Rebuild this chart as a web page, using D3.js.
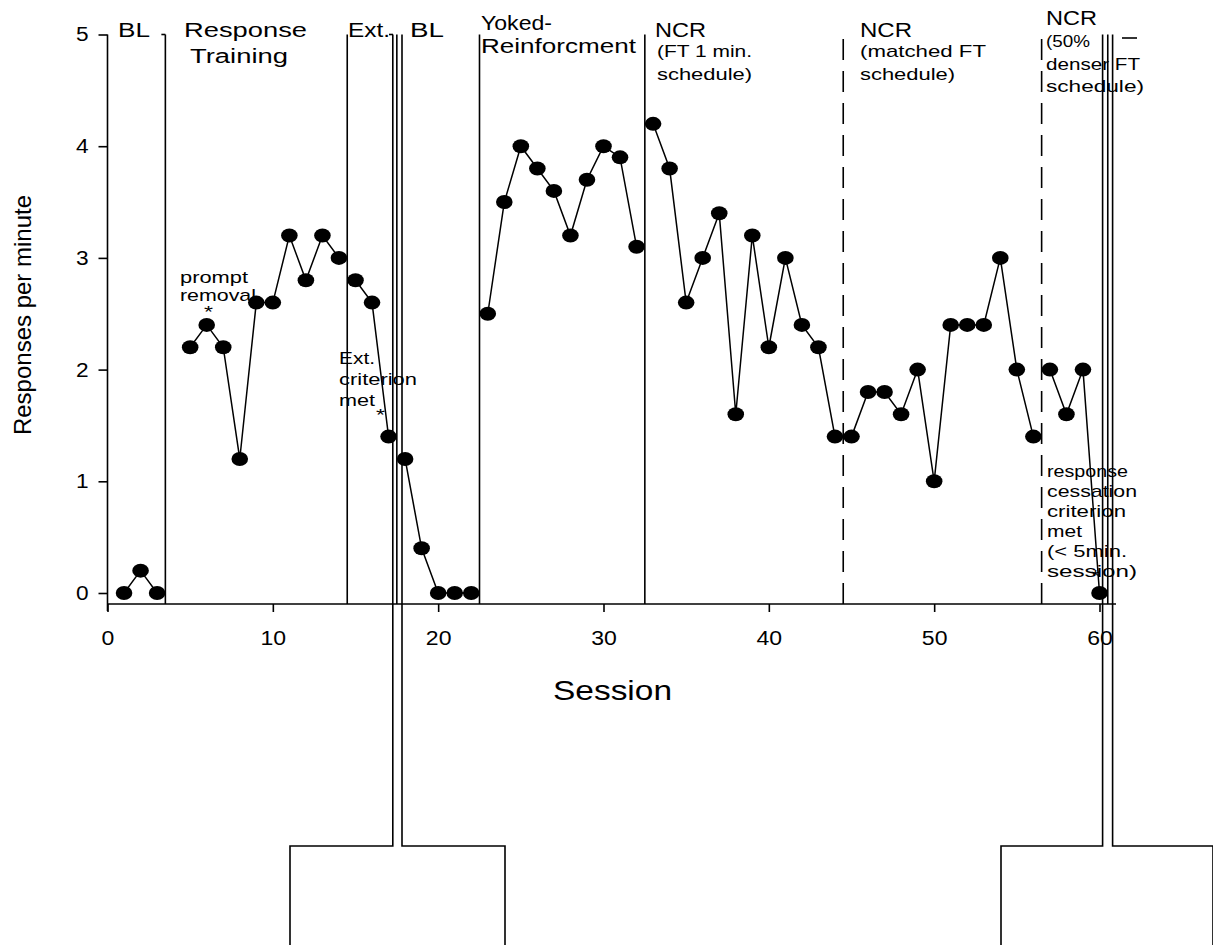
<!DOCTYPE html>
<html>
<head>
<meta charset="utf-8">
<script src="https://cdn.jsdelivr.net/npm/d3@7"></script>
<style>
  html, body { margin: 0; padding: 0; background: #fff; }
  svg { display: block; font-family: "Liberation Sans", Arial, sans-serif; }
</style>
</head>
<body>
<svg id="chart" width="1213" height="945"></svg>
<script>
// ---- data ----
const blSessions = [1, 2, 3];
const blValues = [0, 0.2, 0];
const rtSessions = [5, 6, 7, 8, 9, 10, 11, 12, 13, 14];
const rtValues = [2.2, 2.4, 2.2, 1.2, 2.6, 2.6, 3.2, 2.8, 3.2, 3.0];
const extSessions = [15, 16, 17];
const extValues = [2.8, 2.6, 1.4];
const bl2Sessions = [18, 19, 20, 21, 22];
const bl2Values = [1.2, 0.4, 0, 0, 0];
const yokedSessions = [23, 24, 25, 26, 27, 28, 29, 30, 31, 32];
const yokedValues = [2.5, 3.5, 4.0, 3.8, 3.6, 3.2, 3.7, 4.0, 3.9, 3.1];
const ncr1Sessions = [33, 34, 35, 36, 37, 38, 39, 40, 41, 42, 43, 44];
const ncr1Values = [4.2, 3.8, 2.6, 3.0, 3.4, 1.6, 3.2, 2.2, 3.0, 2.4, 2.2, 1.4];
const ncr2Sessions = [45, 46, 47, 48, 49, 50, 51, 52, 53, 54, 55, 56];
const ncr2Values = [1.4, 1.8, 1.8, 1.6, 2.0, 1.0, 2.4, 2.4, 2.4, 3.0, 2.0, 1.4];
const ncr3Sessions = [57, 58, 59, 60];
const ncr3Values = [2.0, 1.6, 2.0, 0];
const solidPhaseLines = [3.5, 14.5, 17.5, 22.5, 32.5, 60.5];
const dashedPhaseLines = [44.5, 56.5];
const xTicks = [0, 10, 20, 30, 40, 50, 60];
const yTicks = [0, 1, 2, 3, 4, 5];

const svg = d3.select("#chart");
const x = d3.scaleLinear().domain([0, 60]).range([107.5, 1099.5]);
const y = d3.scaleLinear().domain([0, 5]).range([593, 34.5]);
const axisY = 604;
const xEnd = 1116;
const SW = 1.6;

// axes
const yAxis = svg.append("g").attr("transform", `translate(${x(0)},0)`)
  .call(d3.axisLeft(y).tickValues(yTicks).tickSize(9).tickPadding(10).tickFormat(d3.format("d")));
yAxis.select(".domain").remove();
yAxis.selectAll("text").attr("font-size", 20).attr("font-family", "Liberation Sans, Arial, sans-serif")
  .attr("fill", "#000").attr("textLength", 12.6).attr("lengthAdjust", "spacingAndGlyphs");
yAxis.selectAll("line").attr("stroke", "#000").attr("stroke-width", SW);
svg.append("line").attr("x1", x(0)).attr("x2", x(0)).attr("y1", y(5)).attr("y2", axisY + 7)
  .attr("stroke", "#000").attr("stroke-width", SW);

const xAxis = svg.append("g").attr("transform", `translate(0,${axisY})`)
  .call(d3.axisBottom(x).tickValues(xTicks).tickSize(8).tickPadding(19).tickFormat(d3.format("d")));
xAxis.select(".domain").remove();
xAxis.selectAll("text").attr("font-size", 20).attr("font-family", "Liberation Sans, Arial, sans-serif")
  .attr("fill", "#000")
  .attr("textLength", d => String(d).length * 12.8).attr("lengthAdjust", "spacingAndGlyphs");
xAxis.selectAll("line").attr("stroke", "#000").attr("stroke-width", SW);
svg.append("line").attr("x1", x(0)).attr("x2", xEnd).attr("y1", axisY).attr("y2", axisY)
  .attr("stroke", "#000").attr("stroke-width", SW);

// axis titles
svg.append("text").attr("x", 553).attr("y", 700).attr("font-size", 28)
  .attr("textLength", 119).attr("lengthAdjust", "spacingAndGlyphs").text("Session");
svg.append("text").attr("transform", "translate(31,315) rotate(-90)").attr("text-anchor", "middle")
  .attr("font-size", 24).text("Responses per minute");

// phase lines
svg.selectAll(".phase").data(solidPhaseLines).join("line")
  .attr("x1", d => x(d)).attr("x2", d => x(d)).attr("y1", y(5)).attr("y2", axisY)
  .attr("stroke", "#000").attr("stroke-width", SW);
svg.selectAll(".dphase").data(dashedPhaseLines).join("line")
  .attr("x1", d => x(d)).attr("x2", d => x(d)).attr("y1", axisY).attr("y2", y(5))
  .attr("stroke", "#000").attr("stroke-width", SW).attr("stroke-dasharray", "21,11");

// small top ticks
function seg(x1, y1, x2, y2) {
  svg.append("line").attr("x1", x1).attr("y1", y1).attr("x2", x2).attr("y2", y2)
    .attr("stroke", "#000").attr("stroke-width", SW);
}
seg(x(3.5) - 4, y(5), x(3.5), y(5));
seg(389, y(5), 393, y(5));
seg(1122, 38, 1137, 38);

// break brackets extending below the chart
const brkTop = y(5), brkH = 846, brkBottom = 945;
function bracket(bx, hx) {
  svg.append("path")
    .attr("d", `M${bx},${brkTop}V${brkH}H${hx}V${brkBottom}`)
    .attr("fill", "none").attr("stroke", "#000").attr("stroke-width", SW);
}
bracket(392.8, 290);
bracket(402, 505);
bracket(1102.6, 1001);
bracket(1112.6, 1213);

// data
const series = [
  [blSessions, blValues], [rtSessions, rtValues], [extSessions, extValues],
  [bl2Sessions, bl2Values], [yokedSessions, yokedValues], [ncr1Sessions, ncr1Values],
  [ncr2Sessions, ncr2Values], [ncr3Sessions, ncr3Values]
];
const line = d3.line().x(d => x(d[0])).y(d => y(d[1]));
series.forEach(([s, v]) => {
  const pts = s.map((d, i) => [d, v[i]]);
  svg.append("path").attr("d", line(pts)).attr("fill", "none").attr("stroke", "#000").attr("stroke-width", 1.5);
  svg.append("g").selectAll("ellipse").data(pts).join("ellipse")
    .attr("cx", d => x(d[0])).attr("cy", d => y(d[1])).attr("rx", 8.3).attr("ry", 7).attr("fill", "#000");
});

// texts
function txt(x1, x2, yp, s, size) {
  svg.append("text").attr("x", x1).attr("y", yp).attr("font-size", size).attr("fill", "#000")
    .attr("textLength", x2 - x1).attr("lengthAdjust", "spacingAndGlyphs").text(s);
}
// phase labels
txt(118, 150, 37, "BL", 20);
txt(184, 307, 37, "Response", 20);
txt(190, 288, 63, "Training", 20);
txt(348, 390, 37, "Ext.", 20);
txt(410, 444, 37, "BL", 20);
txt(481, 552, 30, "Yoked-", 20);
txt(481, 636, 53, "Reinforcment", 20);
txt(655, 706, 37, "NCR", 20);
txt(657, 752, 57, "(FT 1 min.", 17);
txt(657, 752, 80, "schedule)", 17);
txt(860, 912, 37, "NCR", 20);
txt(860, 986, 57, "(matched FT", 17);
txt(860, 955, 80, "schedule)", 17);
txt(1046, 1097, 25, "NCR", 20);
txt(1046, 1090, 47, "(50%", 17);
txt(1046, 1140, 70, "denser FT", 17);
txt(1046, 1144, 92, "schedule)", 17);

// annotations
txt(180, 248, 283, "prompt", 17);
txt(180, 256, 301, "removal", 17);
txt(204, 213, 318, "*", 16);
txt(339, 375, 364, "Ext.", 17);
txt(339, 417, 385, "criterion", 17);
txt(339, 375, 406, "met", 17);
txt(376, 385, 421, "*", 16);
txt(1047, 1128, 477, "response", 17);
txt(1047, 1137, 497, "cessation", 17);
txt(1047, 1126, 517, "criterion", 17);
txt(1047, 1082, 537, "met", 17);
txt(1047, 1127, 557, "(< 5min.", 17);
txt(1047, 1137, 577, "session)", 17);
txt(1091, 1100, 582, "*", 16);
</script>
</body>
</html>
